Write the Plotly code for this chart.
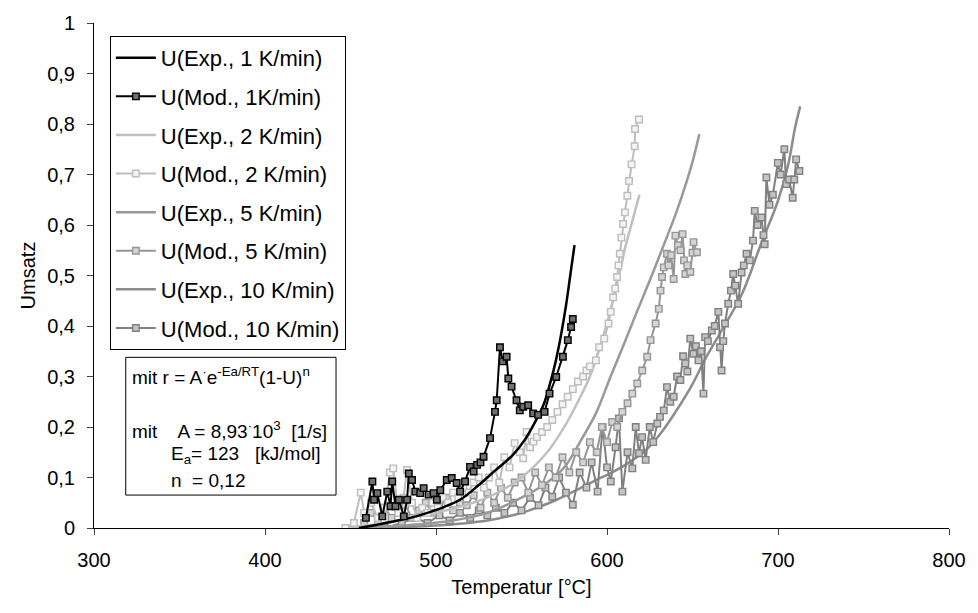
import plotly.graph_objects as go

# ---------------- data ----------------
exp1_T = [455, 465, 475, 485, 495, 505, 515, 525, 535, 545, 552, 558, 563, 567, 570, 573, 576, 578.5, 581]
exp1_U = [0.0, 0.006, 0.013, 0.02, 0.03, 0.042, 0.058, 0.085, 0.115, 0.145, 0.175, 0.21, 0.245, 0.29, 0.33, 0.38, 0.44, 0.5, 0.56]

mod1_T = [459.0, 462.8, 463.8, 465.7, 468.6, 471.5, 473.4, 474.4, 476.3, 478.3, 481.2, 483.1, 484.1, 486.0,
          487.9, 490.8, 492.8, 495.7, 498.6, 500.5, 502.5, 506.3, 509.2, 512.1, 514.1, 517.0, 519.9, 522, 524,
          526, 527.8, 531.6, 534.5, 535.5, 537.4, 539, 541.3, 542.3, 544.2, 547.1, 549, 551, 553.9, 556.8,
          559.7, 563.5, 566.4, 570.3, 574.2, 577.1, 579, 580]
mod1_U = [0.02, 0.092, 0.056, 0.069, 0.023, 0.072, 0.043, 0.092, 0.043, 0.056, 0.023, 0.056, 0.108, 0.095,
          0.072, 0.069, 0.079, 0.066, 0.069, 0.056, 0.075, 0.095, 0.099, 0.089, 0.072, 0.092, 0.121, 0.112, 0.125,
          0.13, 0.141, 0.178, 0.23, 0.253, 0.358, 0.33, 0.339, 0.296, 0.28, 0.253, 0.233, 0.24, 0.243, 0.227,
          0.224, 0.23, 0.266, 0.299, 0.339, 0.372, 0.398, 0.414]

exp2_T = [445, 470, 500, 530, 550, 565, 575, 583, 590, 596, 602, 607, 611, 615, 619]
exp2_U = [0.0, 0.01, 0.03, 0.06, 0.1, 0.15, 0.2, 0.25, 0.3, 0.36, 0.43, 0.5, 0.56, 0.61, 0.66]

mod2_T = [447, 452, 456, 458, 462, 466, 470, 473, 475, 478, 481, 483, 486, 489, 492, 495, 498, 501, 504, 507,
          510, 513, 516, 519, 522, 525, 528, 531, 534, 537, 540, 543, 546, 549, 551, 553, 555, 557, 559, 562,
          565, 568, 571, 574, 577, 580, 583, 586, 588, 590, 593.5, 595.4, 598.4, 600.9, 602.2, 603.6, 604.8,
          605.9, 606.7, 607.5, 608.4, 609.4, 610.5, 611.9, 612.9, 614.4, 616.2, 616.4, 618.7]
mod2_U = [0.0, 0.01, 0.07, 0.03, 0.05, 0.02, 0.04, 0.11, 0.118, 0.03, 0.06, 0.115, 0.05, 0.02, 0.04, 0.03,
          0.05, 0.04, 0.06, 0.05, 0.07, 0.06, 0.08, 0.07, 0.09, 0.1, 0.08, 0.1, 0.12, 0.09, 0.14, 0.12, 0.168,
          0.15, 0.138, 0.19, 0.16, 0.171, 0.18, 0.19, 0.2, 0.214, 0.23, 0.245, 0.26, 0.275, 0.29, 0.3, 0.312,
          0.32, 0.332, 0.358, 0.375, 0.405, 0.428, 0.457, 0.474, 0.497, 0.52, 0.543, 0.575, 0.602, 0.625,
          0.658, 0.687, 0.72, 0.756, 0.79, 0.809]

exp5_T = [450, 480, 510, 530, 550, 565, 575, 585, 593.5, 602, 610, 617, 625, 632, 640, 646, 650, 654]
exp5_U = [0.0, 0.005, 0.015, 0.03, 0.06, 0.09, 0.12, 0.175, 0.227, 0.299, 0.365, 0.424, 0.49, 0.55, 0.62, 0.68, 0.725, 0.78]

mod5_T = [458, 462, 466, 470, 474, 478, 482, 486, 490, 494, 498, 502, 506, 510, 514, 518, 522, 526, 530, 534,
          538, 542, 546, 550, 554, 558, 562, 566, 570, 574, 578, 582, 586, 590, 594, 597, 600, 603, 606, 609,
          612, 614.8, 617.7, 620.6, 623.5, 625.5, 628.4, 630.3, 631.3, 632.2, 633.2, 635.1, 636, 637.5, 639,
          640, 641.5, 643, 644.2, 645, 645.8, 647, 648.7, 650, 650.6, 652.6]
mod5_U = [0.01, 0.03, 0.015, 0.04, 0.02, 0.03, 0.045, 0.02, 0.035, 0.05, 0.03, 0.04, 0.06, 0.035, 0.05, 0.045,
          0.065, 0.04, 0.07, 0.05, 0.08, 0.06, 0.09, 0.1, 0.07, 0.11, 0.085, 0.12, 0.1, 0.14, 0.11, 0.15, 0.13,
          0.17, 0.15, 0.2, 0.17, 0.21, 0.2, 0.23, 0.247, 0.266, 0.286, 0.312, 0.339, 0.372, 0.405, 0.434, 0.47,
          0.497, 0.516, 0.543, 0.52, 0.54, 0.493, 0.579, 0.56, 0.55, 0.582, 0.53, 0.503, 0.52, 0.507, 0.545,
          0.566, 0.546]

exp10_T = [460, 500, 530, 550, 570, 585, 593.5, 603, 613, 623, 632, 642, 650, 657, 667, 679, 690, 700, 706, 710, 713]
exp10_U = [0.0, 0.005, 0.015, 0.03, 0.055, 0.08, 0.095, 0.11, 0.13, 0.155, 0.19, 0.24, 0.285, 0.332, 0.391,
           0.464, 0.562, 0.648, 0.72, 0.793, 0.835]

mod10_T = [470, 480, 488, 495, 502, 508, 514, 520, 525, 530, 535, 540, 545, 550, 555, 560, 564, 568, 572, 576,
           580, 584, 588, 591, 594.5, 597.4, 600, 602.2, 605, 607, 609, 612, 614.8, 616.8, 618.7, 620.5, 622.6,
           625, 627, 629.4, 631, 633.2, 635.1, 637, 639, 641, 642.9, 644.5, 645.8, 647, 648.7, 650.5, 652,
           653.5, 655, 656.4, 657.4, 659, 661.3, 663, 665.1, 666.1, 667, 668, 669, 670.9, 672.5, 673.8, 675,
           676.7, 678.7, 680, 681.6, 683.5, 685.4, 686.4, 688, 690.3, 691.5, 692.2, 693.2, 695, 697, 699.9,
           701.5, 703.7, 704.8, 706.5, 708.6, 709.5, 710.6, 712.5]
mod10_U = [0.0, 0.01, 0.02, 0.01, 0.025, 0.015, 0.03, 0.02, 0.035, 0.025, 0.04, 0.03, 0.05, 0.035, 0.06, 0.045,
           0.08, 0.062, 0.1, 0.07, 0.046, 0.11, 0.08, 0.13, 0.072, 0.2, 0.12, 0.092, 0.16, 0.217, 0.072, 0.15,
           0.118, 0.2, 0.148, 0.18, 0.135, 0.2, 0.17, 0.207, 0.22, 0.233, 0.279, 0.25, 0.26, 0.3, 0.293, 0.34,
           0.326, 0.31, 0.375, 0.345, 0.36, 0.332, 0.35, 0.266, 0.378, 0.37, 0.391, 0.4, 0.428, 0.358, 0.312,
           0.37, 0.405, 0.444, 0.47, 0.503, 0.48, 0.444, 0.506, 0.52, 0.543, 0.53, 0.569, 0.628, 0.6, 0.615,
           0.58, 0.562, 0.694, 0.64, 0.66, 0.723, 0.7, 0.75, 0.681, 0.69, 0.654, 0.69, 0.73, 0.707]

x_ticks = [300, 400, 500, 600, 700, 800]
y_ticks = [0, 0.1, 0.2, 0.3, 0.4, 0.5, 0.6, 0.7, 0.8, 0.9, 1]

FONT = "Liberation Sans, Arial, sans-serif"

# ---------------- figure ----------------
fig = go.Figure()

def add_exp(T, U, name, color, g):
    fig.add_trace(go.Scatter(x=T, y=U, mode="lines", name=name, legendgroup=g,
                             line=dict(color=color, width=2.5, shape="spline")))

def add_mod(T, U, name, color, fill, g):
    fig.add_trace(go.Scatter(x=T, y=U, mode="lines+markers", name=name, legendgroup=g,
                             line=dict(color=color, width=2),
                             marker=dict(symbol="square", size=6.5, color=fill,
                                         line=dict(color=color, width=1.4))))

# draw order: back-most first
add_exp(exp10_T, exp10_U, "U(Exp., 10 K/min)", "#8c8c8c", "g7")
add_mod(mod10_T, mod10_U, "U(Mod., 10 K/min)", "#808080", "#c4c4c4", "g8")
add_exp(exp5_T, exp5_U, "U(Exp., 5 K/min)", "#999999", "g5")
add_mod(mod5_T, mod5_U, "U(Mod., 5 K/min)", "#969696", "#d4d4d4", "g6")
add_exp(exp2_T, exp2_U, "U(Exp., 2 K/min)", "#c0c0c0", "g3")
add_mod(mod2_T, mod2_U, "U(Mod., 2 K/min)", "#bdbdbd", "#f4f4f4", "g4")
add_exp(exp1_T, exp1_U, "U(Exp., 1 K/min)", "#000000", "g1")
add_mod(mod1_T, mod1_U, "U(Mod., 1K/min)", "#000000", "#707070", "g2")

# legend order
order = {"g1": 1, "g2": 2, "g3": 3, "g4": 4, "g5": 5, "g6": 6, "g7": 7, "g8": 8}
for tr in fig.data:
    tr.legendrank = order[tr.legendgroup]

# pixel -> paper helpers (plot area: x 94..956, y 22..528)
L, R, T0, B = 94, 956, 22, 528
def px(x):
    return (x - L) / (R - L)
def py(y):
    return (B - y) / (B - T0)

# annotation box
fig.add_shape(type="rect", xref="paper", yref="paper",
              x0=px(126), x1=px(338), y0=py(495), y1=py(357),
              line=dict(color="#000000", width=1), fillcolor="white", layer="above")

ann_lines = [
    ("mit r = A<sup>·</sup>e<sup>-Ea/RT</sup>(1-U)<sup>n</sup>", 130, 376),
    ("mit    A = 8,93<sup>·</sup>10<sup>3</sup>  [1/s]", 130, 430),
    ("E<sub>a</sub>= 123   [kJ/mol]", 170, 455),
    ("n  = 0,12", 170, 480),
]
for txt, xx, yy in ann_lines:
    fig.add_annotation(text=txt, xref="paper", yref="paper", x=px(xx), y=py(yy),
                       xanchor="left", yanchor="middle", showarrow=False,
                       font=dict(family=FONT, size=19, color="#000000"))

fig.update_layout(
    width=978, height=613,
    margin=dict(l=L, r=978 - R, t=T0, b=613 - B, pad=0),
    paper_bgcolor="white", plot_bgcolor="white",
    separators=", ",
    font=dict(family=FONT, size=20, color="#000000"),
    showlegend=True,
    legend=dict(x=px(110), y=py(35), xanchor="left", yanchor="top",
                bgcolor="white", bordercolor="#000000", borderwidth=1,
                font=dict(family=FONT, size=22, color="#000000"),
                tracegroupgap=7, itemwidth=40),
    xaxis=dict(range=[300, 800], tickvals=x_ticks, ticks="outside", ticklen=6,
               showline=True, linecolor="#000000", linewidth=1, showgrid=False, zeroline=False,
               tickfont=dict(size=20), ticklabelstandoff=8,
               title=dict(text="Temperatur [°C]", font=dict(size=20), standoff=9)),
    yaxis=dict(range=[0, 1], tickvals=y_ticks, ticks="outside", ticklen=6,
               showline=True, linecolor="#000000", linewidth=1, showgrid=False, zeroline=False,
               tickfont=dict(size=20), ticklabelstandoff=8,
               title=dict(text="Umsatz", font=dict(size=20), standoff=6)),
)

fig.write_html("out.html")
